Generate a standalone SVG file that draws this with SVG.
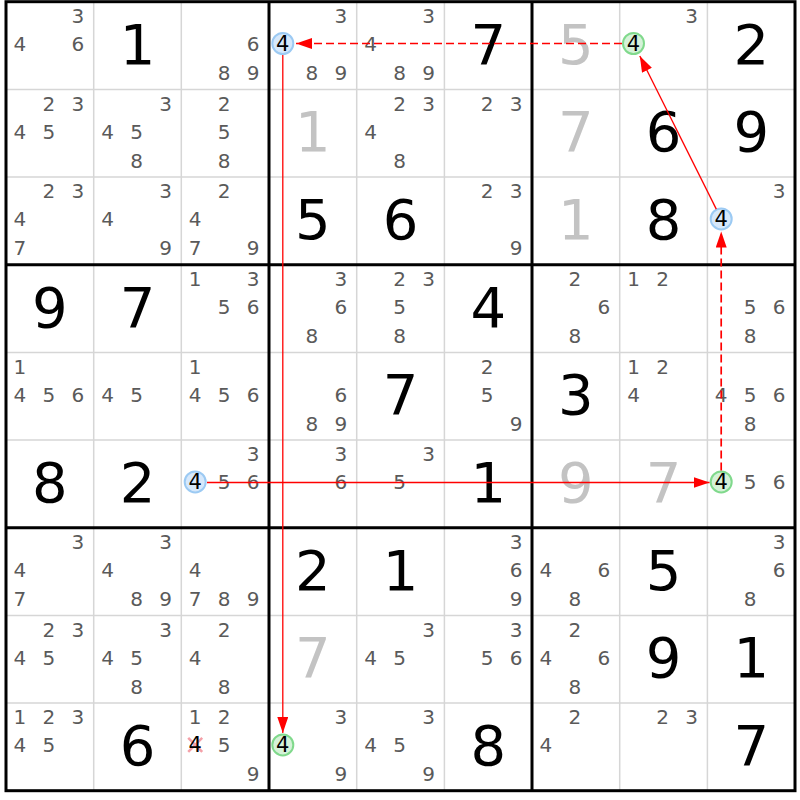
<svg xmlns="http://www.w3.org/2000/svg" width="800" height="800" viewBox="0 0 800 800">
<style>
text{font-family:"DejaVu Sans","Liberation Sans",sans-serif;text-anchor:middle}
.c{font-size:20px;fill:#5a5a5a}
.h{font-size:21px;fill:#000}
.g{font-size:56px;fill:#000}
.s{font-size:56px;fill:#c3c3c3}
.thin{stroke:#d6d6d6;stroke-width:1.5}
.thick{stroke:#000;stroke-width:3}
.cb{fill:#d6e8fb;stroke:#9ccaf3;stroke-width:2}
.cg{fill:#d5f2d8;stroke:#80d98c;stroke-width:2}
.ln{stroke:#f00;stroke-width:1.3;fill:none;marker-end:url(#ah)}
.dash{stroke-dasharray:8 4;stroke-width:1.7}
.x{stroke:#f4a0a8;stroke-width:2.5}
</style>
<defs>
<marker id="ah" markerUnits="userSpaceOnUse" markerWidth="17" markerHeight="12" refX="16" refY="5.5" orient="auto">
<path d="M0,0 L16,5.5 L0,11 z" fill="#f00"/>
</marker>
</defs>
<rect x="0" y="0" width="800" height="800" fill="#fff"/>
<g id="grid">
<path class="thin" d="M93.7,1.7V790.7M181.3,1.7V790.7M356.7,1.7V790.7M444.4,1.7V790.7M619.7,1.7V790.7M707.4,1.7V790.7M6,89.4H795M6,177H795M6,352.4H795M6,440.1H795M6,615.4H795M6,703.1H795"/>
<path class="thick" d="M269,1.7V790.7M532,1.7V790.7M6,264.7H795M6,527.7H795"/>
<rect class="thick" x="6" y="1.7" width="789" height="789" fill="none"/>
</g>
<g id="cells">
<g id="r1c1" transform="translate(49.8,45.5)"><text class="c" x="28" y="-22.5">3</text><text class="c" x="-30" y="5.5">4</text><text class="c" x="28" y="5.5">6</text></g>
<g id="r1c2" transform="translate(137.5,45.5)"><text class="g" y="18">1</text></g>
<g id="r1c3" transform="translate(225.2,45.5)"><text class="c" x="28" y="5.5">6</text><text class="c" x="-1" y="34.5">8</text><text class="c" x="28" y="34.5">9</text></g>
<g id="r1c4" transform="translate(312.8,45.5)"><text class="c" x="28" y="-22.5">3</text><circle class="cb" cx="-30" cy="-2" r="10.5"/><text class="h" x="-30" y="5.5">4</text><text class="c" x="-1" y="34.5">8</text><text class="c" x="28" y="34.5">9</text></g>
<g id="r1c5" transform="translate(400.5,45.5)"><text class="c" x="28" y="-22.5">3</text><text class="c" x="-30" y="5.5">4</text><text class="c" x="-1" y="34.5">8</text><text class="c" x="28" y="34.5">9</text></g>
<g id="r1c6" transform="translate(488.2,45.5)"><text class="g" y="18">7</text></g>
<g id="r1c7" transform="translate(575.9,45.5)"><text class="s" y="18">5</text></g>
<g id="r1c8" transform="translate(663.5,45.5)"><text class="c" x="28" y="-22.5">3</text><circle class="cg" cx="-30" cy="-2" r="10.5"/><text class="h" x="-30" y="5.5">4</text></g>
<g id="r1c9" transform="translate(751.2,45.5)"><text class="g" y="18">2</text></g>

<g id="r2c1" transform="translate(49.8,133.2)"><text class="c" x="-1" y="-22.5">2</text><text class="c" x="28" y="-22.5">3</text><text class="c" x="-30" y="5.5">4</text><text class="c" x="-1" y="5.5">5</text></g>
<g id="r2c2" transform="translate(137.5,133.2)"><text class="c" x="28" y="-22.5">3</text><text class="c" x="-30" y="5.5">4</text><text class="c" x="-1" y="5.5">5</text><text class="c" x="-1" y="34.5">8</text></g>
<g id="r2c3" transform="translate(225.2,133.2)"><text class="c" x="-1" y="-22.5">2</text><text class="c" x="-1" y="5.5">5</text><text class="c" x="-1" y="34.5">8</text></g>
<g id="r2c4" transform="translate(312.8,133.2)"><text class="s" y="18">1</text></g>
<g id="r2c5" transform="translate(400.5,133.2)"><text class="c" x="-1" y="-22.5">2</text><text class="c" x="28" y="-22.5">3</text><text class="c" x="-30" y="5.5">4</text><text class="c" x="-1" y="34.5">8</text></g>
<g id="r2c6" transform="translate(488.2,133.2)"><text class="c" x="-1" y="-22.5">2</text><text class="c" x="28" y="-22.5">3</text></g>
<g id="r2c7" transform="translate(575.9,133.2)"><text class="s" y="18">7</text></g>
<g id="r2c8" transform="translate(663.5,133.2)"><text class="g" y="18">6</text></g>
<g id="r2c9" transform="translate(751.2,133.2)"><text class="g" y="18">9</text></g>

<g id="r3c1" transform="translate(49.8,220.9)"><text class="c" x="-1" y="-22.5">2</text><text class="c" x="28" y="-22.5">3</text><text class="c" x="-30" y="5.5">4</text><text class="c" x="-30" y="34.5">7</text></g>
<g id="r3c2" transform="translate(137.5,220.9)"><text class="c" x="28" y="-22.5">3</text><text class="c" x="-30" y="5.5">4</text><text class="c" x="28" y="34.5">9</text></g>
<g id="r3c3" transform="translate(225.2,220.9)"><text class="c" x="-1" y="-22.5">2</text><text class="c" x="-30" y="5.5">4</text><text class="c" x="-30" y="34.5">7</text><text class="c" x="28" y="34.5">9</text></g>
<g id="r3c4" transform="translate(312.8,220.9)"><text class="g" y="18">5</text></g>
<g id="r3c5" transform="translate(400.5,220.9)"><text class="g" y="18">6</text></g>
<g id="r3c6" transform="translate(488.2,220.9)"><text class="c" x="-1" y="-22.5">2</text><text class="c" x="28" y="-22.5">3</text><text class="c" x="28" y="34.5">9</text></g>
<g id="r3c7" transform="translate(575.9,220.9)"><text class="s" y="18">1</text></g>
<g id="r3c8" transform="translate(663.5,220.9)"><text class="g" y="18">8</text></g>
<g id="r3c9" transform="translate(751.2,220.9)"><text class="c" x="28" y="-22.5">3</text><circle class="cb" cx="-30" cy="-2" r="10.5"/><text class="h" x="-30" y="5.5">4</text></g>

<g id="r4c1" transform="translate(49.8,308.5)"><text class="g" y="18">9</text></g>
<g id="r4c2" transform="translate(137.5,308.5)"><text class="g" y="18">7</text></g>
<g id="r4c3" transform="translate(225.2,308.5)"><text class="c" x="-30" y="-22.5">1</text><text class="c" x="28" y="-22.5">3</text><text class="c" x="-1" y="5.5">5</text><text class="c" x="28" y="5.5">6</text></g>
<g id="r4c4" transform="translate(312.8,308.5)"><text class="c" x="28" y="-22.5">3</text><text class="c" x="28" y="5.5">6</text><text class="c" x="-1" y="34.5">8</text></g>
<g id="r4c5" transform="translate(400.5,308.5)"><text class="c" x="-1" y="-22.5">2</text><text class="c" x="28" y="-22.5">3</text><text class="c" x="-1" y="5.5">5</text><text class="c" x="-1" y="34.5">8</text></g>
<g id="r4c6" transform="translate(488.2,308.5)"><text class="g" y="18">4</text></g>
<g id="r4c7" transform="translate(575.9,308.5)"><text class="c" x="-1" y="-22.5">2</text><text class="c" x="28" y="5.5">6</text><text class="c" x="-1" y="34.5">8</text></g>
<g id="r4c8" transform="translate(663.5,308.5)"><text class="c" x="-30" y="-22.5">1</text><text class="c" x="-1" y="-22.5">2</text></g>
<g id="r4c9" transform="translate(751.2,308.5)"><text class="c" x="-1" y="5.5">5</text><text class="c" x="28" y="5.5">6</text><text class="c" x="-1" y="34.5">8</text></g>

<g id="r5c1" transform="translate(49.8,396.2)"><text class="c" x="-30" y="-22.5">1</text><text class="c" x="-30" y="5.5">4</text><text class="c" x="-1" y="5.5">5</text><text class="c" x="28" y="5.5">6</text></g>
<g id="r5c2" transform="translate(137.5,396.2)"><text class="c" x="-30" y="5.5">4</text><text class="c" x="-1" y="5.5">5</text></g>
<g id="r5c3" transform="translate(225.2,396.2)"><text class="c" x="-30" y="-22.5">1</text><text class="c" x="-30" y="5.5">4</text><text class="c" x="-1" y="5.5">5</text><text class="c" x="28" y="5.5">6</text></g>
<g id="r5c4" transform="translate(312.8,396.2)"><text class="c" x="28" y="5.5">6</text><text class="c" x="-1" y="34.5">8</text><text class="c" x="28" y="34.5">9</text></g>
<g id="r5c5" transform="translate(400.5,396.2)"><text class="g" y="18">7</text></g>
<g id="r5c6" transform="translate(488.2,396.2)"><text class="c" x="-1" y="-22.5">2</text><text class="c" x="-1" y="5.5">5</text><text class="c" x="28" y="34.5">9</text></g>
<g id="r5c7" transform="translate(575.9,396.2)"><text class="g" y="18">3</text></g>
<g id="r5c8" transform="translate(663.5,396.2)"><text class="c" x="-30" y="-22.5">1</text><text class="c" x="-1" y="-22.5">2</text><text class="c" x="-30" y="5.5">4</text></g>
<g id="r5c9" transform="translate(751.2,396.2)"><text class="c" x="-30" y="5.5">4</text><text class="c" x="-1" y="5.5">5</text><text class="c" x="28" y="5.5">6</text><text class="c" x="-1" y="34.5">8</text></g>

<g id="r6c1" transform="translate(49.8,483.9)"><text class="g" y="18">8</text></g>
<g id="r6c2" transform="translate(137.5,483.9)"><text class="g" y="18">2</text></g>
<g id="r6c3" transform="translate(225.2,483.9)"><text class="c" x="28" y="-22.5">3</text><circle class="cb" cx="-30" cy="-2" r="10.5"/><text class="h" x="-30" y="5.5">4</text><text class="c" x="-1" y="5.5">5</text><text class="c" x="28" y="5.5">6</text></g>
<g id="r6c4" transform="translate(312.8,483.9)"><text class="c" x="28" y="-22.5">3</text><text class="c" x="28" y="5.5">6</text></g>
<g id="r6c5" transform="translate(400.5,483.9)"><text class="c" x="28" y="-22.5">3</text><text class="c" x="-1" y="5.5">5</text></g>
<g id="r6c6" transform="translate(488.2,483.9)"><text class="g" y="18">1</text></g>
<g id="r6c7" transform="translate(575.9,483.9)"><text class="s" y="18">9</text></g>
<g id="r6c8" transform="translate(663.5,483.9)"><text class="s" y="18">7</text></g>
<g id="r6c9" transform="translate(751.2,483.9)"><circle class="cg" cx="-30" cy="-2" r="10.5"/><text class="h" x="-30" y="5.5">4</text><text class="c" x="-1" y="5.5">5</text><text class="c" x="28" y="5.5">6</text></g>

<g id="r7c1" transform="translate(49.8,571.6)"><text class="c" x="28" y="-22.5">3</text><text class="c" x="-30" y="5.5">4</text><text class="c" x="-30" y="34.5">7</text></g>
<g id="r7c2" transform="translate(137.5,571.6)"><text class="c" x="28" y="-22.5">3</text><text class="c" x="-30" y="5.5">4</text><text class="c" x="-1" y="34.5">8</text><text class="c" x="28" y="34.5">9</text></g>
<g id="r7c3" transform="translate(225.2,571.6)"><text class="c" x="-30" y="5.5">4</text><text class="c" x="-30" y="34.5">7</text><text class="c" x="-1" y="34.5">8</text><text class="c" x="28" y="34.5">9</text></g>
<g id="r7c4" transform="translate(312.8,571.6)"><text class="g" y="18">2</text></g>
<g id="r7c5" transform="translate(400.5,571.6)"><text class="g" y="18">1</text></g>
<g id="r7c6" transform="translate(488.2,571.6)"><text class="c" x="28" y="-22.5">3</text><text class="c" x="28" y="5.5">6</text><text class="c" x="28" y="34.5">9</text></g>
<g id="r7c7" transform="translate(575.9,571.6)"><text class="c" x="-30" y="5.5">4</text><text class="c" x="28" y="5.5">6</text><text class="c" x="-1" y="34.5">8</text></g>
<g id="r7c8" transform="translate(663.5,571.6)"><text class="g" y="18">5</text></g>
<g id="r7c9" transform="translate(751.2,571.6)"><text class="c" x="28" y="-22.5">3</text><text class="c" x="28" y="5.5">6</text><text class="c" x="-1" y="34.5">8</text></g>

<g id="r8c1" transform="translate(49.8,659.2)"><text class="c" x="-1" y="-22.5">2</text><text class="c" x="28" y="-22.5">3</text><text class="c" x="-30" y="5.5">4</text><text class="c" x="-1" y="5.5">5</text></g>
<g id="r8c2" transform="translate(137.5,659.2)"><text class="c" x="28" y="-22.5">3</text><text class="c" x="-30" y="5.5">4</text><text class="c" x="-1" y="5.5">5</text><text class="c" x="-1" y="34.5">8</text></g>
<g id="r8c3" transform="translate(225.2,659.2)"><text class="c" x="-1" y="-22.5">2</text><text class="c" x="-30" y="5.5">4</text><text class="c" x="-1" y="34.5">8</text></g>
<g id="r8c4" transform="translate(312.8,659.2)"><text class="s" y="18">7</text></g>
<g id="r8c5" transform="translate(400.5,659.2)"><text class="c" x="28" y="-22.5">3</text><text class="c" x="-30" y="5.5">4</text><text class="c" x="-1" y="5.5">5</text></g>
<g id="r8c6" transform="translate(488.2,659.2)"><text class="c" x="28" y="-22.5">3</text><text class="c" x="-1" y="5.5">5</text><text class="c" x="28" y="5.5">6</text></g>
<g id="r8c7" transform="translate(575.9,659.2)"><text class="c" x="-1" y="-22.5">2</text><text class="c" x="-30" y="5.5">4</text><text class="c" x="28" y="5.5">6</text><text class="c" x="-1" y="34.5">8</text></g>
<g id="r8c8" transform="translate(663.5,659.2)"><text class="g" y="18">9</text></g>
<g id="r8c9" transform="translate(751.2,659.2)"><text class="g" y="18">1</text></g>

<g id="r9c1" transform="translate(49.8,746.9)"><text class="c" x="-30" y="-22.5">1</text><text class="c" x="-1" y="-22.5">2</text><text class="c" x="28" y="-22.5">3</text><text class="c" x="-30" y="5.5">4</text><text class="c" x="-1" y="5.5">5</text></g>
<g id="r9c2" transform="translate(137.5,746.9)"><text class="g" y="18">6</text></g>
<g id="r9c3" transform="translate(225.2,746.9)"><text class="c" x="-30" y="-22.5">1</text><text class="c" x="-1" y="-22.5">2</text><path class="x" d="M-37,-9L-23,5M-23,-9L-37,5"/><text class="h" x="-30" y="5.5">4</text><text class="c" x="-1" y="5.5">5</text><text class="c" x="28" y="34.5">9</text></g>
<g id="r9c4" transform="translate(312.8,746.9)"><text class="c" x="28" y="-22.5">3</text><circle class="cg" cx="-30" cy="-2" r="10.5"/><text class="h" x="-30" y="5.5">4</text><text class="c" x="28" y="34.5">9</text></g>
<g id="r9c5" transform="translate(400.5,746.9)"><text class="c" x="28" y="-22.5">3</text><text class="c" x="-30" y="5.5">4</text><text class="c" x="-1" y="5.5">5</text><text class="c" x="28" y="34.5">9</text></g>
<g id="r9c6" transform="translate(488.2,746.9)"><text class="g" y="18">8</text></g>
<g id="r9c7" transform="translate(575.9,746.9)"><text class="c" x="-1" y="-22.5">2</text><text class="c" x="-30" y="5.5">4</text></g>
<g id="r9c8" transform="translate(663.5,746.9)"><text class="c" x="-1" y="-22.5">2</text><text class="c" x="28" y="-22.5">3</text></g>
<g id="r9c9" transform="translate(751.2,746.9)"><text class="g" y="18">7</text></g>
</g>
<g id="connectors">
<path class="ln dash" d="M622,43.5H296"/>
<path class="ln" d="M282.8,55V733"/>
<path class="ln" d="M207,482.5H709.5"/>
<path class="ln dash" d="M721.2,470.5V231.5"/>
<path class="ln" d="M716.3,209.1L639.8,56"/>
</g>
</svg>
